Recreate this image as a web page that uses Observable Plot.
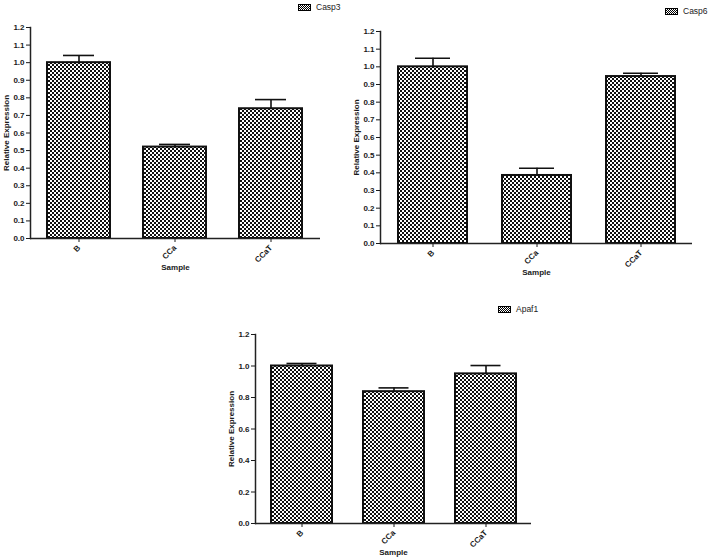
<!DOCTYPE html>
<html><head><meta charset="utf-8">
<script src="https://cdn.jsdelivr.net/npm/d3@7"></script>
<script src="https://cdn.jsdelivr.net/npm/@observablehq/plot@0.6"></script>
<style>
body{margin:0;background:#fff;font-family:"Liberation Sans",Arial,sans-serif;}
#wrap{position:relative;width:714px;height:558px;overflow:hidden;background:#fff}
.panel{position:absolute}
.legend{position:absolute;display:flex;align-items:center;gap:5px;font-size:8.5px;color:#222;height:10px;line-height:10px;white-space:nowrap}
.sw{width:11px;height:5px;border:1px solid #000;background:repeating-conic-gradient(#000 0 25%, #fff 0 50%) 0 0/2px 2px;}
</style></head><body><div id="wrap"></div>
<script>
// ---- data ----
const samples = ["B", "CCa", "CCaT"];
const casp3Mean = [1.0, 0.52, 0.738];
const casp3Upper = [1.041, 0.535, 0.79];
const casp6Mean = [1.0, 0.385, 0.945];
const casp6Upper = [1.049, 0.426, 0.964];
const apaf1Mean = [1.0, 0.837, 0.95];
const apaf1Upper = [1.016, 0.861, 1.003];
const ticksFine = [0, 0.1, 0.2, 0.3, 0.4, 0.5, 0.6, 0.7, 0.8, 0.9, 1.0, 1.1, 1.2];
const ticksCoarse = [0, 0.2, 0.4, 0.6, 0.8, 1.0, 1.2];
const seriesNames = ["Casp3", "Casp6", "Apaf1"];

// ---- layout ----
const panels = [
  {name: seriesNames[0], mean: casp3Mean, upper: casp3Upper, ticks: ticksFine,
   left: 0, top: 0, width: 350, height: 285, mt: 27, mr: 30, mb: 47, ml: 30, cap: 16,
   legend: {left: 298, top: 2}},
  {name: seriesNames[1], mean: casp6Mean, upper: casp6Upper, ticks: ticksFine,
   left: 350, top: 0, width: 364, height: 285, mt: 31, mr: 22, mb: 42, ml: 30, cap: 17,
   legend: {left: 665, top: 6}},
  {name: seriesNames[2], mean: apaf1Mean, upper: apaf1Upper, ticks: ticksCoarse,
   left: 220, top: 295, width: 380, height: 263, mt: 39, mr: 69, mb: 35, ml: 35, cap: 15.5,
   legend: {left: 498, top: 304}}
];

const wrap = document.getElementById("wrap");
const fmt = d3.format(".1f");

panels.forEach((p, i) => {
  const data = samples.map((s, j) => ({sample: s, mean: p.mean[j], upper: p.upper[j]}));
  const pid = "chk" + i;
  const plot = Plot.plot({
    width: p.width, height: p.height,
    marginTop: p.mt, marginRight: p.mr, marginBottom: p.mb, marginLeft: p.ml,
    style: {fontFamily: "'Liberation Sans', Arial, sans-serif", fontSize: "8px", fontWeight: "bold", color: "#1a1a1a", background: "transparent"},
    x: {type: "band", domain: samples, paddingInner: 0.34, paddingOuter: 0.17},
    y: {domain: [0, 1.2]},
    marks: [
      Plot.barY(data, {x: "sample", y: "mean", fill: `url(#${pid})`, stroke: "#111", strokeWidth: 2}),
      Plot.ruleX(data, {x: "sample", y1: "mean", y2: "upper", stroke: "#111", strokeWidth: 1.6}),
      Plot.tickY(data, {x: "sample", y: "upper", stroke: "#111", strokeWidth: 1.6, insetLeft: p.cap, insetRight: p.cap}),
      Plot.ruleY([0], {stroke: "#222", strokeWidth: 1.5}),
      Plot.frame({anchor: "left", stroke: "#222", strokeWidth: 1.5}),
      Plot.axisY({ticks: p.ticks, tickFormat: fmt, tickSize: 4, tickPadding: 2, label: "Relative Expression", labelAnchor: "center", labelArrow: "none", labelOffset: 27}),
      Plot.axisX({tickRotate: -45, tickSize: 4, tickPadding: 4, label: "Sample", labelAnchor: "center", labelArrow: "none", labelOffset: 31})
    ]
  });
  // checkered pattern definition
  const svg = d3.select(plot);
  const defs = svg.insert("defs", ":first-child");
  const pat = defs.append("pattern").attr("id", pid).attr("patternUnits", "userSpaceOnUse")
    .attr("width", 4).attr("height", 4);
  pat.append("rect").attr("width", 4).attr("height", 4).attr("fill", "#fff");
  pat.append("rect").attr("width", 2).attr("height", 2).attr("fill", "#111");
  pat.append("rect").attr("x", 2).attr("y", 2).attr("width", 2).attr("height", 2).attr("fill", "#111");

  const holder = document.createElement("div");
  holder.className = "panel";
  holder.style.left = p.left + "px";
  holder.style.top = p.top + "px";
  holder.appendChild(plot);
  wrap.appendChild(holder);

  const lg = document.createElement("div");
  lg.className = "legend";
  lg.style.left = p.legend.left + "px";
  lg.style.top = p.legend.top + "px";
  const sw = document.createElement("span");
  sw.className = "sw";
  const tx = document.createElement("span");
  tx.textContent = p.name;
  lg.appendChild(sw); lg.appendChild(tx);
  wrap.appendChild(lg);
});
</script></body></html>
